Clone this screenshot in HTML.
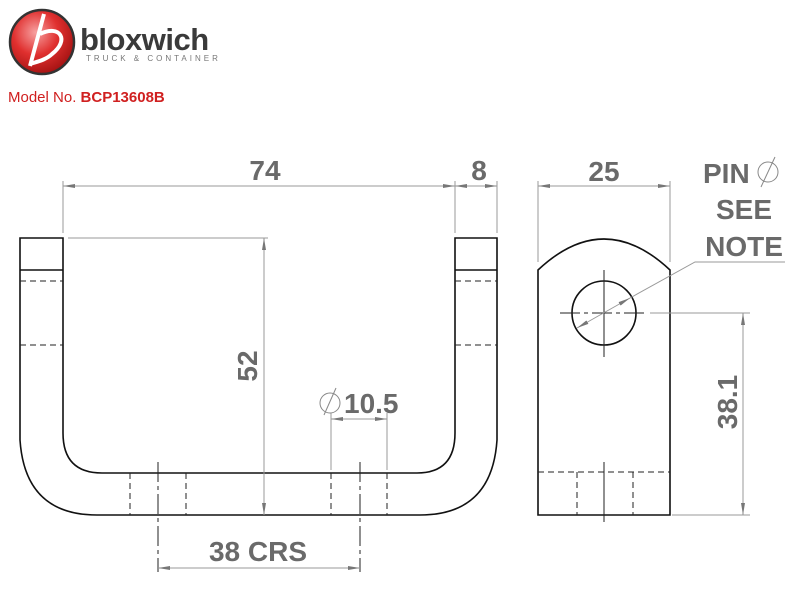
<!DOCTYPE html>
<html><head><meta charset="utf-8"><style>
body{margin:0;background:#fff;width:800px;height:590px;overflow:hidden}
svg{display:block}
.dim{stroke:#999;stroke-width:1;fill:none}
.obj{stroke:#111;stroke-width:1.6;fill:none}
.hid{stroke:#222;stroke-width:1;stroke-dasharray:6,4;fill:none}
.t{font-family:"Liberation Sans",sans-serif;font-weight:bold;fill:#6a6a6a;font-size:28px}
</style></head><body>
<svg width="800" height="590" viewBox="0 0 800 590">
<defs>
<marker id="a" viewBox="0 0 12 6" refX="12" refY="3" markerWidth="12" markerHeight="6" orient="auto-start-reverse" markerUnits="userSpaceOnUse"><path d="M0,1 L12,3 L0,5 Z" fill="#777"/></marker>
<radialGradient id="rg" cx="0.4" cy="0.35" r="0.7"><stop offset="0" stop-color="#f7a0a0"/><stop offset="0.5" stop-color="#e0302f"/><stop offset="1" stop-color="#a01010"/></radialGradient>
</defs>
<!-- logo -->
<circle cx="42" cy="42" r="32" fill="url(#rg)" stroke="#333" stroke-width="2.5"/>
<path d="M44,14 L30,66 M40,34 C60,24 70,40 52,54 C46,60 36,62 30,64" stroke="#fff" stroke-width="4" fill="none"/>
<text x="80" y="50" font-family="Liberation Sans,sans-serif" font-weight="bold" font-size="31" fill="#3a3a3a" letter-spacing="-0.5">bloxwich</text>
<text x="86" y="61" font-family="Liberation Sans,sans-serif" font-size="8" letter-spacing="3" fill="#777">TRUCK &amp; CONTAINER</text>
<text x="8" y="102" font-family="Liberation Sans,sans-serif" font-size="15" fill="#d02020">Model No. <tspan font-weight="bold">BCP13608B</tspan></text>

<!-- front view -->
<path class="obj" d="M20,238 H63 V433 Q63,473 102,473 H417 Q455,473 455,433 V238 H497 V440 Q492,515 420,515 H97 Q25,515 20,440 Z"/>
<line class="obj" x1="20" y1="270" x2="63" y2="270"/>
<line class="obj" x1="455" y1="270" x2="497" y2="270"/>
<g class="hid"><line x1="20" y1="281" x2="63" y2="281"/><line x1="20" y1="345" x2="63" y2="345"/>
<line x1="455" y1="281" x2="497" y2="281"/><line x1="455" y1="345" x2="497" y2="345"/>
<line x1="130" y1="473" x2="130" y2="515"/><line x1="186" y1="473" x2="186" y2="515"/>
<line x1="331" y1="473" x2="331" y2="515"/><line x1="387" y1="473" x2="387" y2="515"/></g>
<g stroke="#222" stroke-width="1" stroke-dasharray="20,4,4,4"><line x1="158" y1="462" x2="158" y2="572"/><line x1="360" y1="462" x2="360" y2="572"/></g>
<g class="dim">
<line x1="63" y1="181" x2="63" y2="233"/><line x1="455" y1="181" x2="455" y2="233"/><line x1="497" y1="181" x2="497" y2="233"/>
<line x1="63" y1="186" x2="455" y2="186" marker-start="url(#a)" marker-end="url(#a)"/>
<line x1="455" y1="186" x2="497" y2="186" marker-start="url(#a)" marker-end="url(#a)"/>
<line x1="68" y1="238" x2="268" y2="238"/>
<line x1="264" y1="238" x2="264" y2="515" marker-start="url(#a)" marker-end="url(#a)"/>
<line x1="331" y1="413" x2="331" y2="470"/><line x1="387" y1="413" x2="387" y2="470"/>
<line x1="331" y1="419" x2="387" y2="419" marker-start="url(#a)" marker-end="url(#a)"/>
<line x1="158" y1="568" x2="360" y2="568" marker-start="url(#a)" marker-end="url(#a)"/>
</g>
<text class="t" x="265" y="180" text-anchor="middle">74</text>
<text class="t" x="479" y="180" text-anchor="middle">8</text>
<text class="t" transform="translate(257,366) rotate(-90)" text-anchor="middle">52</text>
<g stroke="#888" stroke-width="1" fill="none"><circle cx="330" cy="403" r="10"/><line x1="336" y1="388" x2="324" y2="415"/></g>
<text class="t" x="344" y="413">10.5</text>
<text class="t" x="258" y="561" text-anchor="middle">38 CRS</text>

<!-- side view -->
<path class="obj" d="M538,515 V270 Q604,208 670,270 V515 Z"/>
<circle class="obj" cx="604" cy="313" r="32"/>
<g stroke="#222" stroke-width="1"><line x1="604" y1="270" x2="604" y2="357"/><line x1="560" y1="313" x2="648" y2="313" stroke-dasharray="20,4,4,4"/></g>
<g class="hid"><line x1="538" y1="472" x2="670" y2="472"/><line x1="577" y1="472" x2="577" y2="515"/><line x1="633" y1="472" x2="633" y2="515"/></g>
<line x1="604" y1="462" x2="604" y2="522" stroke="#222" stroke-width="1"/>
<g class="dim">
<line x1="538" y1="181" x2="538" y2="262"/><line x1="670" y1="181" x2="670" y2="262"/>
<line x1="538" y1="186" x2="670" y2="186" marker-start="url(#a)" marker-end="url(#a)"/>
<line x1="650" y1="313" x2="750" y2="313"/><line x1="672" y1="515" x2="750" y2="515"/>
<line x1="743" y1="313" x2="743" y2="515" marker-start="url(#a)" marker-end="url(#a)"/>
<polyline points="785,262 695,262 630,298"/>
<line x1="630" y1="298" x2="577" y2="328" marker-start="url(#a)" marker-end="url(#a)"/>
</g>
<text class="t" x="604" y="181" text-anchor="middle">25</text>
<text class="t" x="703" y="183">PIN</text>
<g stroke="#888" stroke-width="1" fill="none"><circle cx="768" cy="172" r="10"/><line x1="775" y1="157" x2="761" y2="187"/></g>
<text class="t" x="744" y="219" text-anchor="middle">SEE</text>
<text class="t" x="744" y="256" text-anchor="middle">NOTE</text>
<text class="t" transform="translate(737,402) rotate(-90)" text-anchor="middle">38.1</text>
</svg>
</body></html>
